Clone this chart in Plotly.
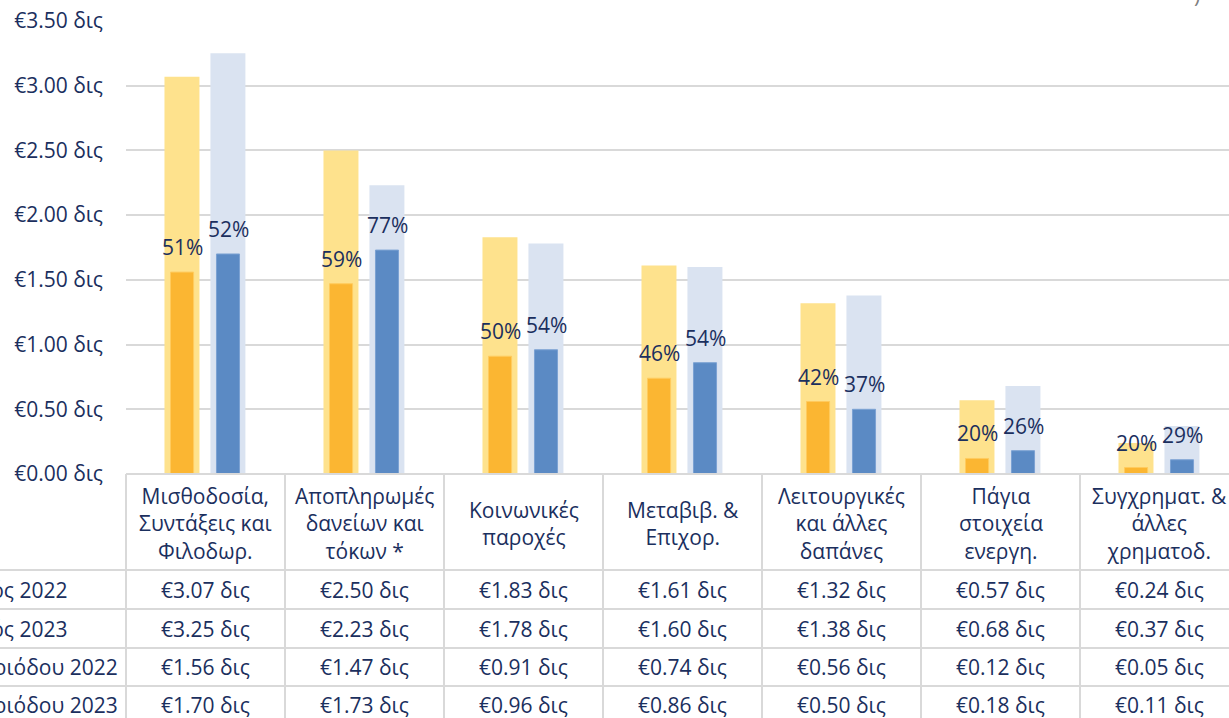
import plotly.graph_objects as go

categories = [
    "Μισθοδοσία,<br>Συντάξεις και<br>Φιλοδωρ.",
    "Αποπληρωμές<br>δανείων και<br>τόκων *",
    "Κοινωνικές<br>παροχές",
    "Μεταβιβ. &<br>Επιχορ.",
    "Λειτουργικές<br>και άλλες<br>δαπάνες",
    "Πάγια<br>στοιχεία<br>ενεργη.",
    "Συγχρηματ. &<br>άλλες<br>χρηματοδ.",
]
series_names = [
    "Προϋπολογισμός 2022",
    "Προϋπολογισμός 2023",
    "Εκτέλεση περιόδου 2022",
    "Εκτέλεση περιόδου 2023",
]
budget_2022 = [3.07, 2.50, 1.83, 1.61, 1.32, 0.57, 0.24]
budget_2023 = [3.25, 2.23, 1.78, 1.60, 1.38, 0.68, 0.37]
actual_2022 = [1.56, 1.47, 0.91, 0.74, 0.56, 0.12, 0.05]
actual_2023 = [1.70, 1.73, 0.96, 0.86, 0.50, 0.18, 0.11]
pct_2022 = [51, 59, 50, 46, 42, 20, 20]
pct_2023 = [52, 77, 54, 54, 37, 26, 29]
y_ticks = [0.0, 0.5, 1.0, 1.5, 2.0, 2.5, 3.0, 3.5]

FONT = "Open Sans"
NAVY = "#1B2F5E"
GRID = "#D9D9D9"
FS = 21

W, H = 1229, 718
ML, MT, MB = 126, 21, 244
x_range = [-0.5, 6.437]
plot_w = W - ML
plot_h = H - MT - MB

def px_to_py(pix):
    return (H - MB - pix) / plot_h

def px_to_px(pix):
    return (pix - ML) / plot_w

def xd_to_paper(xd):
    return (xd - x_range[0]) / (x_range[1] - x_range[0])

xs = list(range(len(categories)))

fig = go.Figure()
specs = [
    (budget_2022, "#FEE28D", None, -0.258, 0.22),
    (budget_2023, "#DAE3F1", None, 0.031, 0.22),
    (actual_2022, "#FBB632", "#FFCB5E", -0.22, 0.145),
    (actual_2023, "#5B8AC4", "#7CA2D3", 0.069, 0.145),
]
for (vals, col, lc, off, wd), name in zip(specs, series_names):
    fig.add_trace(go.Bar(
        x=xs, y=vals, name=name, offset=off, width=wd,
        marker=dict(color=col, line=dict(color=lc or col, width=1 if lc else 0)),
        hoverinfo="y",
    ))

annotations = []
for i in xs:
    annotations.append(dict(x=i - 0.22 + 0.145 / 2, y=actual_2022[i], xref="x", yref="y",
                            text=f"{pct_2022[i]}%", showarrow=False, yanchor="middle",
                            yshift=25, font=dict(family=FONT, size=FS, color=NAVY)))
    annotations.append(dict(x=i + 0.069 + 0.145 / 2, y=actual_2023[i], xref="x", yref="y",
                            text=f"{pct_2023[i]}%", showarrow=False, yanchor="middle",
                            yshift=25, font=dict(family=FONT, size=FS, color=NAVY)))

# data table
shapes = []
header_top, header_bot = 474, 570
row_lines = [570, 609, 648, 686, 725]
right_edge = 1.05
shapes.append(dict(type="line", xref="paper", yref="paper", x0=0, x1=right_edge,
                   y0=px_to_py(header_top), y1=px_to_py(header_top),
                   line=dict(color=GRID, width=2)))
for r in row_lines:
    shapes.append(dict(type="line", xref="paper", yref="paper", x0=-0.2, x1=right_edge,
                       y0=px_to_py(r), y1=px_to_py(r), line=dict(color=GRID, width=2)))
for k in range(len(categories) + 1):
    xp = xd_to_paper(k - 0.5)
    shapes.append(dict(type="line", xref="paper", yref="paper", x0=xp, x1=xp,
                       y0=px_to_py(header_top), y1=px_to_py(740),
                       line=dict(color=GRID, width=2)))

for i, c in enumerate(categories):
    annotations.append(dict(x=xd_to_paper(i), y=px_to_py((header_top + header_bot) / 2 + 1),
                            xref="paper", yref="paper", text=c, showarrow=False,
                            xanchor="center", yanchor="middle", align="center",
                            font=dict(family=FONT, size=FS, color=NAVY)))

table_rows = [budget_2022, budget_2023, actual_2022, actual_2023]
label_left = [-158, -158, -127, -127]
for r, (vals, name) in enumerate(zip(table_rows, series_names)):
    yc = px_to_py((row_lines[r] + row_lines[r + 1]) / 2)
    annotations.append(dict(x=px_to_px(label_left[r]), y=yc, xref="paper", yref="paper",
                            text=name, showarrow=False, xanchor="left", yanchor="middle",
                            font=dict(family=FONT, size=FS, color=NAVY)))
    for i, v in enumerate(vals):
        annotations.append(dict(x=xd_to_paper(i), y=yc, xref="paper", yref="paper",
                                text=f"€{v:.2f} δις", showarrow=False, xanchor="center",
                                yanchor="middle", font=dict(family=FONT, size=FS, color=NAVY)))

# cropped title remnant at the top right
annotations.append(dict(x=px_to_px(1197), y=px_to_py(-5), xref="paper", yref="paper",
                        text=")", showarrow=False, xanchor="center", yanchor="middle",
                        font=dict(family=FONT, size=FS, color="#7F7F7F")))

fig.update_layout(
    template="none",
    width=W, height=H,
    margin=dict(l=ML, r=0, t=MT, b=MB, pad=0, autoexpand=False),
    paper_bgcolor="white", plot_bgcolor="white",
    barmode="overlay", showlegend=False,
    xaxis=dict(range=x_range, showticklabels=False, showgrid=False, zeroline=False,
               showline=False, fixedrange=True, automargin=False),
    yaxis=dict(range=[0, 3.5], tickvals=y_ticks,
               ticktext=[f"€{t:.2f} δις" for t in y_ticks],
               tickfont=dict(family=FONT, size=FS, color=NAVY),
               showgrid=True, gridcolor=GRID, gridwidth=2, zeroline=False,
               showline=False, ticks="", ticklabelstandoff=22, automargin=False),
    shapes=shapes, annotations=annotations,
    font=dict(family=FONT, size=FS, color=NAVY),
)
fig.write_html("out.html", config={"displayModeBar": False},
               post_script="document.body.style.margin='0px';document.body.style.overflow='hidden';")
